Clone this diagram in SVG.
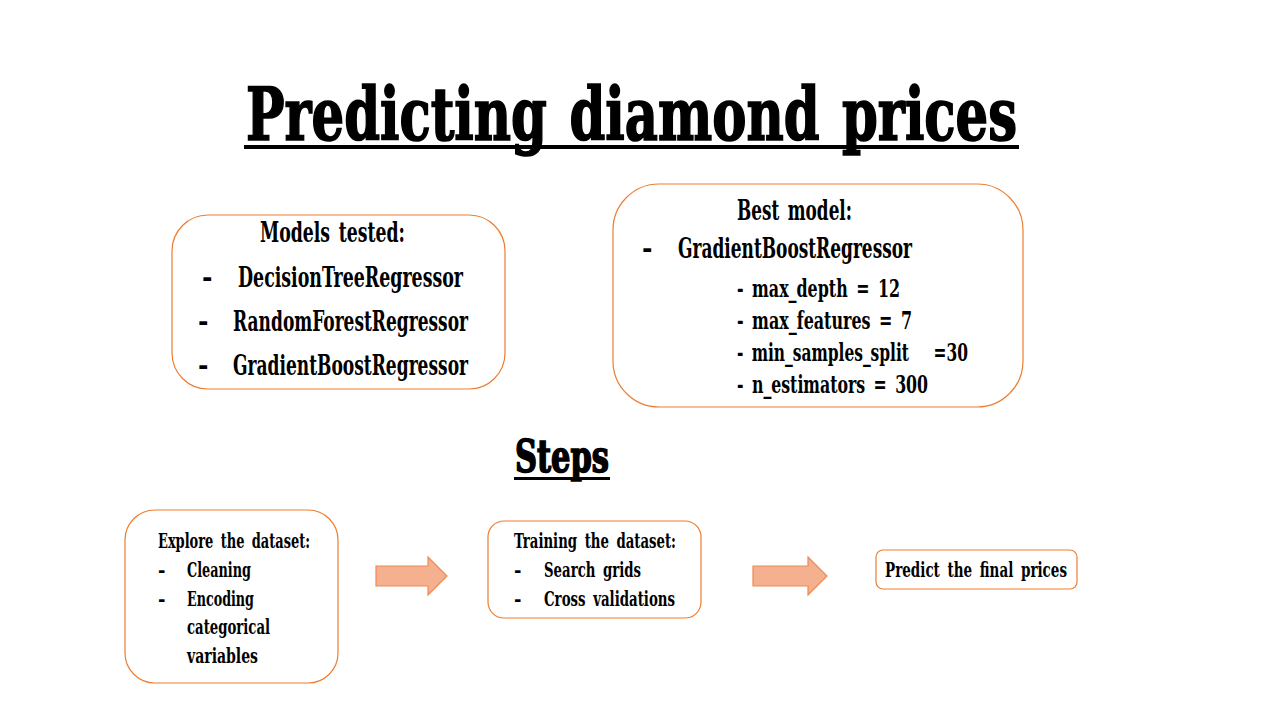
<svg xmlns="http://www.w3.org/2000/svg" width="1280" height="720" viewBox="0 0 1280 720">
<style>
text{font-family:"DejaVu Serif Condensed","DejaVu Serif","Liberation Serif",serif;fill:#000;}
.box{fill:#fff;stroke:#ED7D31;stroke-width:1.2;}
.h{font-weight:bold;stroke:#000;stroke-width:1.6;word-spacing:6px;}
.m{font-size:28px;font-weight:bold;word-spacing:4px;}
.p{font-size:24px;font-weight:bold;word-spacing:4px;}
.s{font-size:20px;font-weight:bold;word-spacing:4px;}
.arrow{fill:#F4B08F;stroke:#F08A55;stroke-width:1.2;}
</style>
<rect width="1280" height="720" fill="#fff"/>
<g id="title">
<text x="246" y="140" class="h" font-size="72" textLength="771" lengthAdjust="spacingAndGlyphs">Predicting diamond prices</text>
<rect x="244" y="145" width="775" height="4"/>
</g>
<g id="models-tested">
<rect class="box" x="172" y="215" width="333" height="174" rx="36"/>
<text class="m" x="260" y="242" textLength="145" lengthAdjust="spacingAndGlyphs">Models tested:</text>
<text class="m" x="202" y="287">-</text>
<text class="m" x="238" y="287" textLength="225" lengthAdjust="spacingAndGlyphs">DecisionTreeRegressor</text>
<text class="m" x="198" y="331">-</text>
<text class="m" x="233" y="331" textLength="235" lengthAdjust="spacingAndGlyphs">RandomForestRegressor</text>
<text class="m" x="198" y="375">-</text>
<text class="m" x="233" y="375" textLength="235" lengthAdjust="spacingAndGlyphs">GradientBoostRegressor</text>
</g>
<g id="best-model">
<rect class="box" x="613" y="184" width="410" height="223" rx="46"/>
<text class="m" x="737" y="220" textLength="115" lengthAdjust="spacingAndGlyphs">Best model:</text>
<text class="m" x="642" y="258">-</text>
<text class="m" x="678" y="258" textLength="234" lengthAdjust="spacingAndGlyphs">GradientBoostRegressor</text>
<text class="p" x="737" y="297" textLength="163" lengthAdjust="spacingAndGlyphs">- max_depth = 12</text>
<text class="p" x="737" y="329" textLength="175" lengthAdjust="spacingAndGlyphs">- max_features = 7</text>
<text class="p" x="737" y="361" textLength="231" lengthAdjust="spacingAndGlyphs" style="white-space:pre">- min_samples_split   =30</text>
<text class="p" x="737" y="393" textLength="191" lengthAdjust="spacingAndGlyphs">- n_estimators = 300</text>
</g>
<g id="steps-heading">
<text x="515" y="472" class="h" font-size="44" textLength="94" lengthAdjust="spacingAndGlyphs">Steps</text>
<rect x="514" y="477" width="96" height="3"/>
</g>
<g id="explore">
<rect class="box" x="125" y="510" width="213" height="173" rx="30"/>
<text class="s" x="158" y="548" textLength="152" lengthAdjust="spacingAndGlyphs">Explore the dataset:</text>
<text class="s" x="158" y="577">-</text>
<text class="s" x="187" y="577" textLength="64" lengthAdjust="spacingAndGlyphs">Cleaning</text>
<text class="s" x="158" y="606">-</text>
<text class="s" x="187" y="606" textLength="67" lengthAdjust="spacingAndGlyphs">Encoding</text>
<text class="s" x="187" y="634" textLength="83" lengthAdjust="spacingAndGlyphs">categorical</text>
<text class="s" x="187" y="663" textLength="71" lengthAdjust="spacingAndGlyphs">variables</text>
</g>
<g id="training">
<rect class="box" x="488" y="521" width="213" height="97" rx="16"/>
<text class="s" x="514" y="548" textLength="162" lengthAdjust="spacingAndGlyphs">Training the dataset:</text>
<text class="s" x="514" y="577">-</text>
<text class="s" x="544" y="577" textLength="97" lengthAdjust="spacingAndGlyphs">Search grids</text>
<text class="s" x="514" y="606">-</text>
<text class="s" x="544" y="606" textLength="131" lengthAdjust="spacingAndGlyphs">Cross validations</text>
</g>
<g id="predict">
<rect class="box" x="876" y="550" width="201" height="39" rx="7"/>
<text class="s" x="885" y="577" textLength="182" lengthAdjust="spacingAndGlyphs">Predict the final prices</text>
</g>
<g id="connectors">
<path class="arrow" d="M376 566 H428 V557 L447 576 L428 595 V586 H376 Z"/>
<path class="arrow" d="M753 566 H808 V557 L827 576 L808 595 V586 H753 Z"/>
</g>
</svg>
